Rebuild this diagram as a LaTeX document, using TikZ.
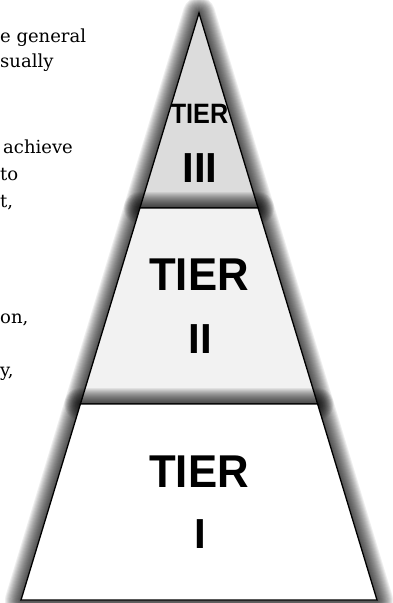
\documentclass[tikz,border=0pt]{standalone}
\usepackage{fontspec}
\usepackage{graphicx}
\setmainfont{DejaVu Serif}
\setsansfont{Liberation Sans}

\definecolor{tierthree}{HTML}{DCDCDC}
\definecolor{tiertwo}{HTML}{F2F2F2}
\definecolor{tierone}{HTML}{FFFFFF}

\tikzset{
  glow/.style={draw=black, draw opacity=0.065, line join=round},
  tier/.style={draw=black, line width=1.3pt, line join=miter},
  side/.style={anchor=base west, font=\fontsize{18}{21}\selectfont},
  label/.style={anchor=base, font=\sffamily\bfseries\fontsize{46}{50}\selectfont},
}
% soft shadow round a closed path
\newcommand{\tierglow}[1]{%
  \foreach \w in {2,4,...,32} {\draw [glow, line width=\w pt] #1 -- cycle;}}

\begin{document}
\begin{tikzpicture}[x=1pt,y=-1pt]
		\tikzstyle{every node}+=[inner sep=0pt]
		\useasboundingbox (0,0) rectangle (393,603);
		% text cut off at the left
		\draw (0,42) node [side] (line1) {e general};
		\draw (0,67) node [side] (line2) {sually};
		\draw (3,153) node [side] (line3) {achieve};
		\draw (0,180) node [side] (line4) {to};
		\draw (0,207) node [side] (line5) {t,};
		\draw (0,323) node [side] (line6) {on,};
		\draw (0,376) node [side] (line7) {y,};
		% pyramid corners
		\coordinate (apex) at (199,13);
		\coordinate (l3) at (139.9,208);
		\coordinate (r3) at (258.1,208);
		\coordinate (l2) at (80.4,404);
		\coordinate (r2) at (317.6,404);
		\coordinate (l1) at (21,600);
		\coordinate (r1) at (377,600);
		% tier III
		\tierglow{(apex) -- (r3) -- (l3)}
		\draw [tier, fill=tierthree] (apex) -- (r3) -- (l3) -- cycle;
		% tier II
		\tierglow{(l3) -- (r3) -- (r2) -- (l2)}
		\draw [tier, fill=tiertwo] (l3) -- (r3) -- (r2) -- (l2) -- cycle;
		% tier I
		\tierglow{(l2) -- (r2) -- (r1) -- (l1)}
		\draw [tier, fill=tierone] (l2) -- (r2) -- (r1) -- (l1) -- cycle;
		% labels
		\draw (199.5,123) node [label, font=\sffamily\bfseries\fontsize{28}{30}\selectfont] (tier3) {\scalebox{0.9}[1]{TIER}};
		\draw (200,182) node [label, font=\sffamily\bfseries\fontsize{42}{44}\selectfont] (num3) {III};
		\draw (199,290) node [label] (tier2) {\scalebox{0.95}[1]{TIER}};
		\draw (200,353) node [label, font=\sffamily\bfseries\fontsize{42}{44}\selectfont] (num2) {II};
		\draw (199,487) node [label] (tier1) {\scalebox{0.95}[1]{TIER}};
		\draw (200,548) node [label, font=\sffamily\bfseries\fontsize{42}{44}\selectfont] (num1) {I};
	\end{tikzpicture}
\end{document}
